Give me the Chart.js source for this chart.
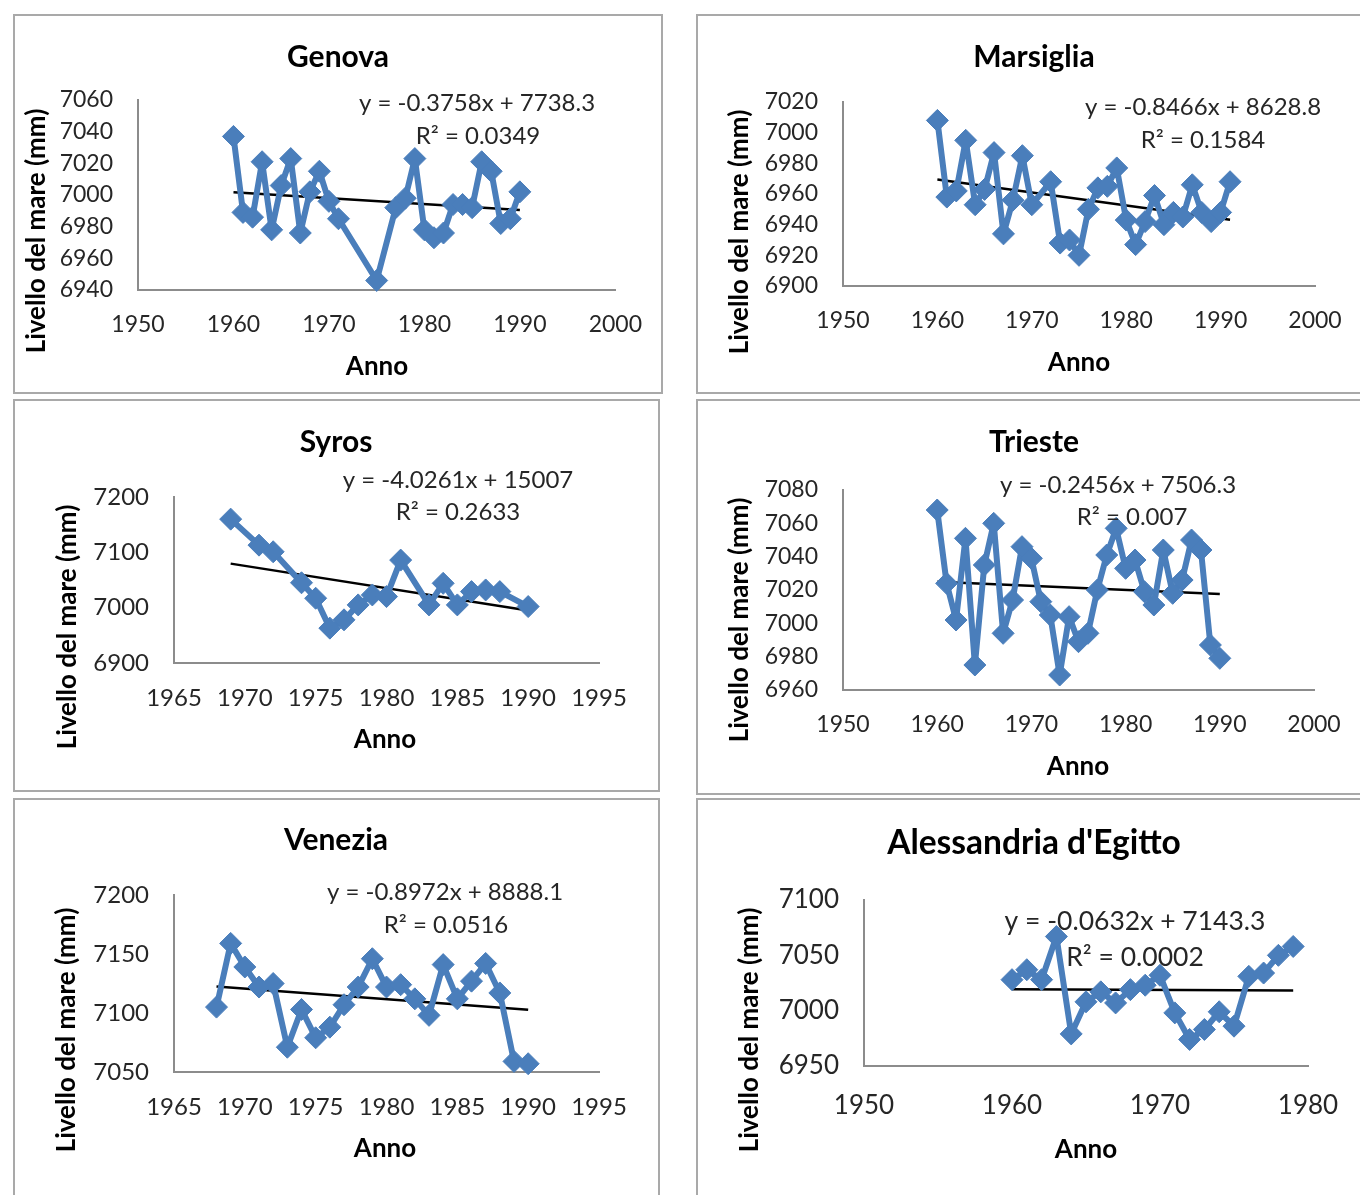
<!DOCTYPE html>
<html>
<head>
<meta charset="utf-8">
<title>Livello del mare</title>
<script src="https://cdn.jsdelivr.net/npm/chart.js@4.4.1/dist/chart.umd.min.js"></script>
<style>
  html, body { margin: 0; padding: 0; background: #fff; }
  body { width: 1360px; height: 1195px; position: relative; overflow: hidden; }
  canvas { position: absolute; }
</style>
</head>
<body>
<canvas id="genova"></canvas>
<canvas id="marsiglia"></canvas>
<canvas id="syros"></canvas>
<canvas id="trieste"></canvas>
<canvas id="venezia"></canvas>
<canvas id="alessandria"></canvas>
<script>
// Genova
const genovaYears = [1960, 1961, 1962, 1963, 1964, 1965, 1966, 1967, 1968, 1969, 1970, 1971, 1975,
    1977, 1978, 1979, 1980, 1981, 1982, 1983, 1984, 1985, 1986, 1987, 1988, 1989, 1990];
const genovaLevels = [7037, 6989, 6986, 7021, 6978, 7006, 7023, 6976, 7002, 7015, 6996, 6985, 6946,
    6992, 6998, 7023, 6978, 6973, 6976, 6994, 6994, 6992, 7021, 7015, 6982, 6985, 7002];
const genovaTrend = [-0.3758, 7738.3, '0.0349'];
const genovaXTicks = [1950, 2000, 10];
const genovaYTicks = [6940, 7060, 20];

// Marsiglia
const marsigliaYears = [1960, 1961, 1962, 1963, 1964, 1965, 1966, 1967, 1968, 1969, 1970, 1972, 1973,
    1974, 1975, 1976, 1977, 1978, 1979, 1980, 1981, 1982, 1983, 1984, 1985, 1986, 1987, 1988, 1989, 1990, 1991];
const marsigliaLevels = [7008, 6958, 6962, 6995, 6953, 6963, 6987, 6934, 6956, 6985, 6953, 6968, 6928,
    6930, 6920, 6950, 6964, 6965, 6977, 6943, 6927, 6942, 6959, 6940, 6948, 6945, 6966, 6948, 6942, 6948, 6968];
const marsigliaTrend = [-0.8466, 8628.8, '0.1584'];
const marsigliaXTicks = [1950, 2000, 10];
const marsigliaYTicks = [6900, 7020, 20];

// Syros
const syrosYears = [1969, 1971, 1972, 1974, 1975, 1976, 1977, 1978, 1979, 1980, 1981, 1983, 1984,
    1985, 1986, 1987, 1988, 1990];
const syrosLevels = [7160, 7113, 7101, 7045, 7017, 6963, 6978, 7005, 7023, 7020, 7086, 7005, 7044,
    7005, 7029, 7032, 7029, 7002];
const syrosTrend = [-4.0261, 15007, '0.2633'];
const syrosXTicks = [1965, 1995, 5];
const syrosYTicks = [6900, 7200, 100];

// Trieste
const triesteYears = [1960, 1961, 1962, 1963, 1964, 1965, 1966, 1967, 1968, 1969, 1970, 1971, 1972,
    1973, 1974, 1975, 1976, 1977, 1978, 1979, 1980, 1981, 1982, 1983, 1984, 1985, 1986, 1987, 1988, 1989, 1990];
const triesteLevels = [7068, 7024, 7002, 7051, 6975, 7035, 7060, 6994, 7014, 7046, 7039, 7013, 7005,
    6969, 7004, 6989, 6994, 7020, 7041, 7057, 7033, 7038, 7019, 7011, 7044, 7018, 7026, 7050, 7044, 6987, 6979];
const triesteTrend = [-0.2456, 7506.3, '0.007'];
const triesteXTicks = [1950, 2000, 10];
const triesteYTicks = [6960, 7080, 20];

// Venezia
const veneziaYears = [1968, 1969, 1970, 1971, 1972, 1973, 1974, 1975, 1976, 1977, 1978, 1979, 1980,
    1981, 1982, 1983, 1984, 1985, 1986, 1987, 1988, 1989, 1990];
const veneziaLevels = [7105, 7159, 7139, 7122, 7125, 7071, 7103, 7079, 7088, 7107, 7122, 7146, 7122,
    7124, 7112, 7098, 7141, 7112, 7127, 7142, 7117, 7059, 7057];
const veneziaTrend = [-0.8972, 8888.1, '0.0516'];
const veneziaXTicks = [1965, 1995, 5];
const veneziaYTicks = [7050, 7200, 50];

// Alessandria d'Egitto
const alessandriaYears = [1960, 1961, 1962, 1963, 1964, 1965, 1966, 1967, 1968, 1969, 1970, 1971, 1972,
    1973, 1974, 1975, 1976, 1977, 1978, 1979];
const alessandriaLevels = [7028, 7037, 7028, 7067, 6979, 7008, 7017, 7007, 7019, 7023, 7032, 6998, 6974,
    6983, 6999, 6986, 7031, 7034, 7050, 7058];
const alessandriaTrend = [-0.0632, 7143.3, '0.0002'];
const alessandriaXTicks = [1950, 1980, 10];
const alessandriaYTicks = [6950, 7100, 50];

const BLUE = '#4a7ebb';
const FONT = 'Lato, "Open Sans", sans-serif';

// page layout of each panel: box, plot area, text anchors and font sizes
const panels = [
    { id: 'genova', title: 'Genova', years: genovaYears, levels: genovaLevels, trend: genovaTrend,
      xt: genovaXTicks, yt: genovaYTicks,
      box: [13, 14, 650, 380], plot: [138, 100, 617, 290],
      titlePos: [338, 57], yTitle: [37, 231], xTitle: [377, 367], eq: [477, 103], r2: [478, 136],
      sizes: { title: 30, tick: 23, eq: 24, pad: 21 } },
    { id: 'marsiglia', title: 'Marsiglia', years: marsigliaYears, levels: marsigliaLevels, trend: marsigliaTrend,
      xt: marsigliaXTicks, yt: marsigliaYTicks,
      box: [696, 14, 680, 380], plot: [843, 102, 1315, 286],
      titlePos: [1034, 57], yTitle: [740, 232], xTitle: [1079, 363], eq: [1203, 107], r2: [1203, 140],
      sizes: { title: 30, tick: 23, eq: 24, pad: 21 } },
    { id: 'syros', title: 'Syros', years: syrosYears, levels: syrosLevels, trend: syrosTrend,
      xt: syrosXTicks, yt: syrosYTicks,
      box: [13, 399, 647, 393], plot: [174, 497, 599, 663],
      titlePos: [336, 442], yTitle: [68, 627], xTitle: [385, 740], eq: [458, 480], r2: [458, 512],
      sizes: { title: 30, tick: 24, eq: 24, pad: 21 } },
    { id: 'trieste', title: 'Trieste', years: triesteYears, levels: triesteLevels, trend: triesteTrend,
      xt: triesteXTicks, yt: triesteYTicks,
      box: [696, 399, 680, 396], plot: [843, 490, 1314, 690],
      titlePos: [1034, 442], yTitle: [740, 620], xTitle: [1078, 767], eq: [1118, 485], r2: [1132, 517],
      sizes: { title: 30, tick: 23, eq: 24, pad: 21 } },
    { id: 'venezia', title: 'Venezia', years: veneziaYears, levels: veneziaLevels, trend: veneziaTrend,
      xt: veneziaXTicks, yt: veneziaYTicks,
      box: [13, 798, 647, 420], plot: [174, 895, 599, 1072],
      titlePos: [336, 840], yTitle: [67, 1030], xTitle: [385, 1149], eq: [445, 892], r2: [446, 925],
      sizes: { title: 30, tick: 24, eq: 24, pad: 21 } },
    { id: 'alessandria', title: "Alessandria d'Egitto", years: alessandriaYears, levels: alessandriaLevels,
      trend: alessandriaTrend, xt: alessandriaXTicks, yt: alessandriaYTicks,
      box: [696, 798, 680, 420], plot: [864, 900, 1308, 1066],
      titlePos: [1034, 843], yTitle: [750, 1030], xTitle: [1086, 1150], eq: [1135, 921], r2: [1135, 957],
      sizes: { title: 33.5, tick: 26, eq: 26.5, pad: 24 } }
];

// border, titles and trend equation, drawn straight on the canvas
const panelText = {
    id: 'panelText',
    beforeDraw(chart, args, p) {
        const ctx = chart.ctx;
        ctx.save();
        ctx.strokeStyle = '#a9a9a9';
        ctx.lineWidth = 2;
        ctx.strokeRect(1, 1, chart.width - 2, chart.height - 2);
        ctx.restore();
    },
    afterDraw(chart, args, p) {
        const ctx = chart.ctx;
        const ox = p.box[0], oy = p.box[1];
        ctx.save();
        ctx.textAlign = 'center';
        ctx.textBaseline = 'middle';
        ctx.fillStyle = '#000';

        ctx.font = 'bold ' + p.sizes.title + 'px ' + FONT;
        ctx.fillText(p.title, p.titlePos[0] - ox, p.titlePos[1] - oy);

        ctx.font = 'bold 26px ' + FONT;
        ctx.fillText('Anno', p.xTitle[0] - ox, p.xTitle[1] - oy);

        ctx.fillStyle = '#262626';
        ctx.font = p.sizes.eq + 'px ' + FONT;
        const m = p.trend[0], b = p.trend[1];
        const eq = 'y = ' + m + 'x + ' + b.toFixed(b % 1 ? 1 : 0);
        ctx.fillText(eq, p.eq[0] - ox, p.eq[1] - oy);
        ctx.fillText('R² = ' + p.trend[2], p.r2[0] - ox, p.r2[1] - oy);

        ctx.fillStyle = '#000';
        ctx.font = 'bold 26px ' + FONT;
        ctx.translate(p.yTitle[0] - ox, p.yTitle[1] - oy);
        ctx.rotate(-Math.PI / 2);
        ctx.fillText('Livello del mare (mm)', 0, 0);
        ctx.restore();
    }
};

function buildChart(p) {
    const [bx, by, bw, bh] = p.box;
    const [pl, pt, pr, pb] = p.plot;
    const canvas = document.getElementById(p.id);
    canvas.width = bw;
    canvas.height = bh;
    canvas.style.left = bx + 'px';
    canvas.style.top = by + 'px';

    const points = p.years.map((yr, i) => ({ x: yr, y: p.levels[i] }));
    const first = p.years[0], last = p.years[p.years.length - 1];
    const trendLine = [first, last].map(yr => ({ x: yr, y: p.trend[0] * yr + p.trend[1] }));

    const tickFont = { family: FONT, size: p.sizes.tick };

    new Chart(canvas, {
        type: 'scatter',
        data: {
            datasets: [
                {
                    data: points,
                    showLine: true,
                    borderColor: BLUE,
                    backgroundColor: BLUE,
                    borderWidth: 6,
                    borderJoinStyle: 'round',
                    borderCapStyle: 'round',
                    pointStyle: 'rectRot',
                    pointRadius: 11,
                    pointBorderWidth: 1,
                    pointHoverRadius: 11,
                    clip: false
                },
                {
                    data: trendLine,
                    showLine: true,
                    borderColor: '#000',
                    borderWidth: 2.5,
                    pointRadius: 0,
                    clip: false
                }
            ]
        },
        options: {
            responsive: false,
            animation: false,
            devicePixelRatio: 1,
            layout: { padding: { top: pt - by, right: bx + bw - pr, left: 0, bottom: 0 } },
            plugins: {
                legend: { display: false },
                title: { display: false },
                tooltip: { enabled: false },
                panelText: p
            },
            scales: {
                x: {
                    type: 'linear',
                    min: p.xt[0],
                    max: p.xt[1],
                    grid: { display: false, drawTicks: false },
                    border: { display: true, color: '#8c8c8c', width: 2 },
                    ticks: { stepSize: p.xt[2], font: tickFont, color: '#262626', padding: p.sizes.pad,
                             maxRotation: 0, callback: v => String(v) },
                    afterFit: s => { s.height = by + bh - pb; }
                },
                y: {
                    type: 'linear',
                    min: p.yt[0],
                    max: p.yt[1],
                    grid: { display: false, drawTicks: false },
                    border: { display: true, color: '#8c8c8c', width: 2 },
                    ticks: { stepSize: p.yt[2], font: tickFont, color: '#262626', padding: 25,
                             callback: v => String(v) },
                    afterFit: s => { s.width = pl - bx; }
                }
            }
        },
        plugins: [panelText]
    });
}

document.fonts.load('23px Lato').then(() => document.fonts.load('bold 23px Lato'))
    .finally(() => panels.forEach(buildChart));
</script>
</body>
</html>
